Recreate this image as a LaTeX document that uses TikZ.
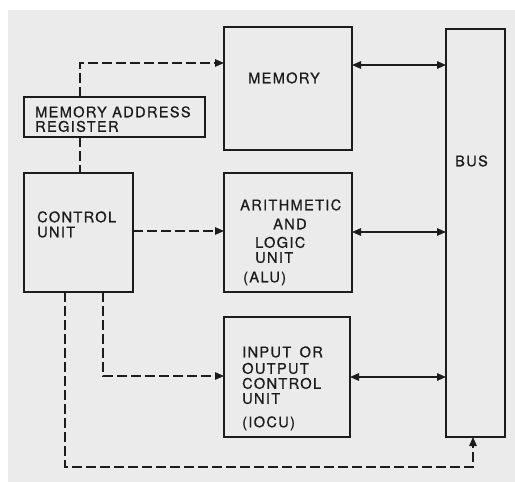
\documentclass[tikz,border=0pt]{standalone}
\usepackage{fontspec}
\setmainfont{TeX Gyre Heros}[LetterSpace=9,FakeBold=0.8]
\usetikzlibrary{arrows.meta}
\definecolor{bg}{HTML}{EBEBEB}
\definecolor{ink}{HTML}{1C1C1C}
\begin{document}
\begin{tikzpicture}[x=1pt,y=-1pt,
  box/.style={draw=ink,line width=1.4pt,inner sep=0pt,outer sep=0pt},
  lbl/.style={anchor=west,inner sep=0pt,text height=10.5pt,text depth=0pt,
    font=\fontsize{14.6}{14.6}\selectfont,text=ink},
  biarrow/.style={draw=ink,line width=1.3pt,{Triangle[length=9pt,width=7.5pt]}-{Triangle[length=9pt,width=7.5pt]}},
  dashline/.style={draw=ink,line width=1.3pt,dash pattern=on 10pt off 4pt},
  dasharrow/.style={dashline,-{Triangle[length=9pt,width=7.5pt]}}]
\fill[white] (0,0) rectangle (515,482);
\fill[bg] (8,10) rectangle (515,482);
\useasboundingbox (0,0) rectangle (515,482);

% boxes
\node[box,minimum width=128pt,minimum height=123pt] (mem) at (288,88.5) {};
\node[box,minimum width=181pt,minimum height=40pt] (mar) at (114.5,117) {};
\node[box,minimum width=109pt,minimum height=119pt] (cu) at (78.5,232.5) {};
\node[box,minimum width=128pt,minimum height=119pt] (alu) at (288,232.5) {};
\node[box,minimum width=126pt,minimum height=120pt] (iocu) at (287,377) {};
\node[box,minimum width=59pt,minimum height=408pt] (bus) at (475.5,233) {};

% labels
\node[lbl] (tmem) at (248,78) {MEMORY};
\node[lbl] (tmar1) at (35,112) {MEMORY ADDRESS};
\node[lbl] (tmar2) at (35,126.5) {REGISTER};
\node[lbl] (tcu1) at (37,217) {CONTROL};
\node[lbl] (tcu2) at (37,232) {UNIT};
\node[lbl] (talu1) at (240,205) {ARITHMETIC};
\node[lbl] (talu2) at (273,224) {AND};
\node[lbl] (talu3) at (255,242.5) {LOGIC};
\node[lbl] (talu4) at (255,257.5) {UNIT};
\node[lbl] (talu5) at (243,277) {(ALU)};
\node[lbl] (tio1) at (242,352) {INPUT\hspace{3pt} OR};
\node[lbl] (tio2) at (242,368.5) {OUTPUT};
\node[lbl] (tio3) at (242,383.5) {CONTROL};
\node[lbl] (tio4) at (242,398.5) {UNIT};
\node[lbl] (tio5) at (242,422) {(IOCU)};
\node[lbl] (tbus) at (455,161) {BUS};

% helper coordinates
\coordinate (xmar) at (80,0);
\coordinate (ymem) at (0,63);
\coordinate (yalu) at (0,231);
\coordinate (xio) at (103,0);
\coordinate (yio) at (0,376);
\coordinate (xbus) at (65,0);
\coordinate (ybot) at (0,467);
\coordinate (xbb) at (473,0);
\coordinate (b1) at (0,65);
\coordinate (b2) at (0,232);
\coordinate (b3) at (0,377);

% bus connections
\draw[biarrow] (mem.east |- b1) -- (bus.west |- b1);
\draw[biarrow] (alu.east |- b2) -- (bus.west |- b2);
\draw[biarrow] (iocu.east |- b3) -- (bus.west |- b3);

% control lines
\draw[dasharrow] (mar.north -| xmar) |- (mem.west |- ymem);
\draw[dashline] (mar.south -| xmar) -- (cu.north -| xmar);
\draw[dasharrow] (cu.east |- yalu) -- (alu.west |- yalu);
\draw[dasharrow] (cu.south -| xio) |- (iocu.west |- yio);
\draw[dasharrow] (cu.south -| xbus) -- (xbus |- ybot) -| (bus.south -| xbb);
\end{tikzpicture}
\end{document}
